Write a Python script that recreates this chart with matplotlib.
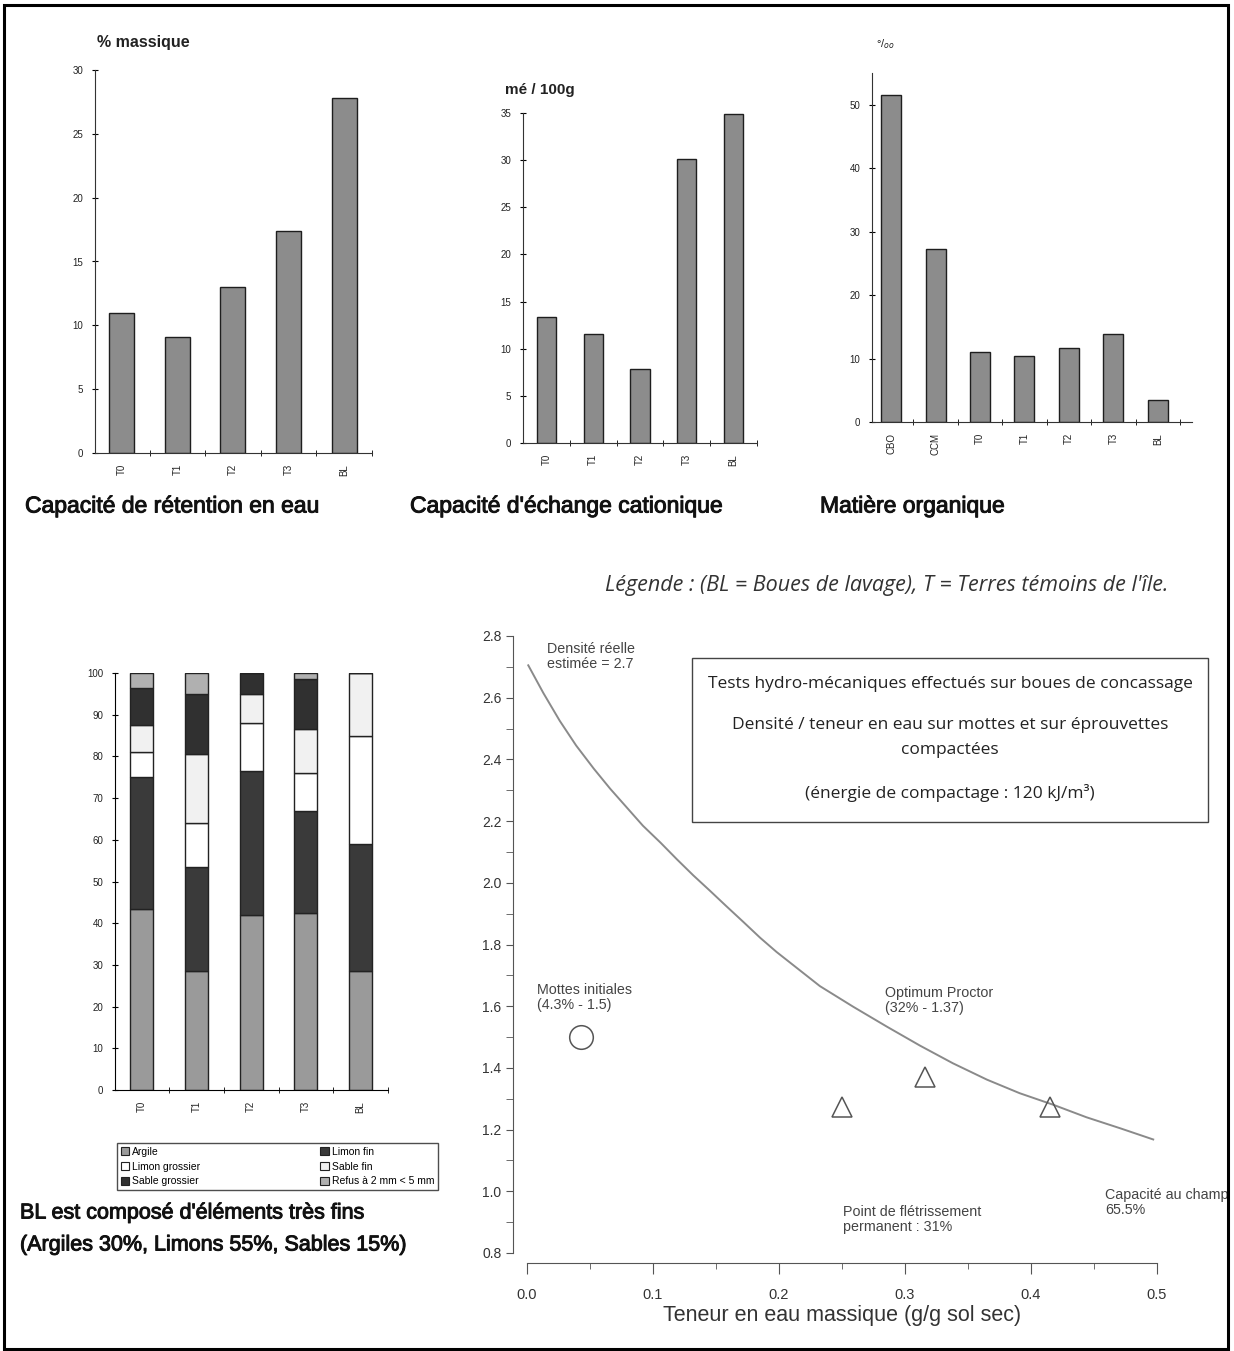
import numpy as np
import matplotlib
matplotlib.use("Agg")
import matplotlib.pyplot as plt
import matplotlib.patheffects as pe
from matplotlib.patches import Rectangle, Patch

plt.rcParams['font.family'] = ['Liberation Sans', 'DejaVu Sans']

# --- data ---
cre_cats = ["T0", "T1", "T2", "T3", "BL"]
cre_vals = [11.0, 9.1, 13.0, 17.4, 27.8]

cec_cats = ["T0", "T1", "T2", "T3", "BL"]
cec_vals = [13.35, 11.6, 7.8, 30.1, 34.9]

mo_cats = ["CBO", "CCM", "T0", "T1", "T2", "T3", "BL"]
mo_vals = [51.6, 27.3, 11.0, 10.4, 11.7, 13.8, 3.4]

gran_cats = ["T0", "T1", "T2", "T3", "BL"]
gran_names = ["Argile", "Limon fin", "Limon grossier", "Sable fin",
              "Sable grossier", "Refus à 2 mm < 5 mm"]
argile = [43.5, 28.5, 42.0, 42.5, 28.5]
limon_fin = [31.5, 25.0, 34.5, 24.5, 30.5]
limon_gros = [6.0, 10.5, 11.5, 9.0, 26.0]
sable_fin = [6.5, 16.5, 7.0, 10.5, 15.0]
sable_gros = [9.0, 14.5, 5.0, 12.0, 0.0]
refus = [3.5, 5.0, 0.0, 1.5, 0.0]
gran_colors = ["#9a9a9a", "#3a3a3a", "#ffffff", "#f1f1f1", "#303030", "#b0b0b0"]

# saturation curve, points
curve_w = [0.001, 0.013, 0.026, 0.039, 0.053, 0.066, 0.079, 0.092, 0.106, 0.119,
           0.132, 0.145, 0.158, 0.172, 0.185, 0.198, 0.2325, 0.259, 0.2855, 0.312,
           0.338, 0.365, 0.391, 0.418, 0.444, 0.471, 0.497]
curve_d = [2.705, 2.615, 2.525, 2.445, 2.37, 2.305, 2.245, 2.185, 2.13, 2.076,
           2.024, 1.975, 1.925, 1.872, 1.822, 1.776, 1.665, 1.598, 1.534, 1.472,
           1.415, 1.362, 1.318, 1.280, 1.240, 1.204, 1.168]
mottes_w, mottes_d = [0.043], [1.5]
eprouv_w = [0.25, 0.316, 0.415]
eprouv_d = [1.274, 1.372, 1.274]

W, H = 1234, 1351
fig = plt.figure(figsize=(W / 100, H / 100), dpi=100)
fig.patch.set_facecolor("white")

def rect(x0, x1, ytop, ybot):
    return [x0 / W, 1 - ybot / H, (x1 - x0) / W, (ybot - ytop) / H]

TXT = "#222222"
heavy = [pe.withStroke(linewidth=0.7, foreground="#111")]

def bar_panel(r, cats, vals, xlim, ylim, yticks, width):
    ax = fig.add_axes(r)
    x = np.arange(len(cats))
    ax.bar(x, vals, width, color="#8c8c8c", edgecolor="#1e1e1e", linewidth=1.0)
    ax.set_xlim(xlim)
    ax.set_ylim(ylim)
    ax.set_yticks(yticks)
    ax.set_xticks(x)
    ax.set_xticklabels(cats, rotation=90, fontsize=7, color=TXT)
    ax.set_xticks(x + 0.5, minor=True)
    ax.tick_params(axis="x", which="major", length=0, pad=8)
    ax.tick_params(axis="x", which="minor", length=5, direction="inout")
    ax.tick_params(axis="y", length=5, direction="inout", labelsize=7, labelcolor=TXT, pad=6)
    for s in ["top", "right"]:
        ax.spines[s].set_visible(False)
    for s in ["left", "bottom"]:
        ax.spines[s].set_color("#333333")
    return ax

title = dict(fontsize=16.5, va="center", color="#111", path_effects=heavy)
unit = dict(color=TXT, va="center", fontweight="bold")

# top row
bar_panel(rect(95, 372, 70, 453), cre_cats, cre_vals, (-0.48, 4.5), (0, 30), range(0, 31, 5), 0.45)
fig.text(97 / W, 1 - 42 / H, "% massique", fontsize=11.5, **unit)
fig.text(25 / W, 1 - 506 / H, "Capacité de rétention en eau", **title)

bar_panel(rect(523, 757, 113, 443), cec_cats, cec_vals, (-0.5, 4.35), (0, 35), range(0, 36, 5), 0.41)
fig.text(505 / W, 1 - 90 / H, "mé / 100g", fontsize=11, **unit)
fig.text(410 / W, 1 - 506 / H, "Capacité d'échange cationique", **title)

bar_panel(rect(872, 1192, 73, 422), mo_cats, mo_vals, (-0.43, 6.77), (0, 55), range(0, 51, 10), 0.45)
fig.text(876 / W, 1 - 44 / H, "°/$_{oo}$", fontsize=8, color=TXT, va="center")
fig.text(820 / W, 1 - 506 / H, "Matière organique", **title)

fig.text(605 / W, 1 - 585 / H, "Légende : (BL = Boues de lavage), T = Terres témoins de l'île.",
         fontsize=15.5, style="italic", family=["Open Sans", "DejaVu Sans"], color="#333", va="center")

# stacked granulometry
ax4 = fig.add_axes(rect(115, 388, 673, 1090))
xg = np.arange(len(gran_cats))
layers = [argile, limon_fin, limon_gros, sable_fin, sable_gros, refus]
bottom = np.zeros(len(gran_cats))
for vals, col in zip(layers, gran_colors):
    ax4.bar(xg, vals, 0.42, bottom=bottom, color=col, edgecolor="#222", linewidth=1.0)
    bottom += np.array(vals)
ax4.set_xlim(-0.49, 4.48)
ax4.set_ylim(0, 100)
ax4.set_yticks(range(0, 101, 10))
ax4.set_xticks(xg)
ax4.set_xticklabels(gran_cats, rotation=90, fontsize=7, color=TXT)
ax4.set_xticks(xg + 0.5, minor=True)
ax4.tick_params(axis="x", which="major", length=0, pad=8)
ax4.tick_params(axis="x", which="minor", length=5, direction="inout")
ax4.tick_params(axis="y", length=5, direction="inout", labelsize=7, labelcolor=TXT, pad=6)
for s in ["top", "right"]:
    ax4.spines[s].set_visible(False)

handles = [Patch(facecolor=c, edgecolor="#222", linewidth=0.8) for c in gran_colors]
order = [0, 2, 4, 1, 3, 5]
leg = fig.legend([handles[i] for i in order], [gran_names[i] for i in order],
                 loc="lower left", bbox_to_anchor=(117 / W, 1 - 1190 / H, 321 / W, 62 / H),
                 mode="expand", ncol=2, fontsize=7.5, frameon=True, fancybox=False,
                 handlelength=0.8, handleheight=0.8, handletextpad=0.3,
                 borderaxespad=0, borderpad=0.35, labelspacing=0.45)
leg.get_frame().set_edgecolor("#222")
leg.get_frame().set_linewidth(1.0)

bl = dict(fontsize=15.5, va="center", color="#111", path_effects=heavy)
fig.text(20 / W, 1 - 1213 / H, "BL est composé d'éléments très fins", **bl)
fig.text(20 / W, 1 - 1245 / H, "(Argiles 30%, Limons 55%, Sables 15%)", **bl)

# density / water content
ax5 = fig.add_axes(rect(527, 1157, 636, 1253))
ax5.plot(curve_w, curve_d, color="#8a8a8a", linewidth=1.4)
ax5.plot(mottes_w, mottes_d, "o", markersize=17, markerfacecolor="none",
         markeredgecolor="#555", markeredgewidth=1.1)
ax5.plot(eprouv_w, eprouv_d, "^", markersize=15, markerfacecolor="none",
         markeredgecolor="#555", markeredgewidth=1.1)
ax5.set_xlim(0, 0.5)
ax5.set_ylim(0.8, 2.8)
ax5.set_yticks(np.arange(0.8, 2.81, 0.2))
ax5.set_yticklabels([f"{v:.1f}" for v in np.arange(0.8, 2.81, 0.2)])
ax5.set_yticks(np.arange(0.8, 2.81, 0.1), minor=True)
ax5.set_xticks(np.arange(0, 0.51, 0.1))
ax5.set_xticklabels([f"{v:.1f}" for v in np.arange(0, 0.51, 0.1)])
ax5.set_xticks(np.arange(0, 0.51, 0.05), minor=True)
ax5.tick_params(axis="y", which="both", length=5, labelsize=10, labelcolor="#333", color="#555")
ax5.tick_params(axis="x", which="major", length=8, labelsize=10.5, labelcolor="#333", pad=10, color="#555")
ax5.tick_params(axis="x", which="minor", length=4, color="#555")
ax5.spines["left"].set_position(("outward", 10))
ax5.spines["bottom"].set_position(("outward", 7))
for s in ["top", "right"]:
    ax5.spines[s].set_visible(False)
for s in ["left", "bottom"]:
    ax5.spines[s].set_color("#555")
ax5.set_xlabel("Teneur en eau massique (g/g sol sec)", fontsize=15.5, color="#333", labelpad=2)

small = dict(fontsize=10.3, color="#444", va="top", ha="left", linespacing=1.05)
ax5.text(0.016, 2.78, "Densité réelle\nestimée = 2.7", **small)
ax5.text(0.008, 1.675, "Mottes initiales\n(4.3% - 1.5)", **small)
ax5.text(0.284, 1.665, "Optimum Proctor\n(32% - 1.37)", **small)
ax5.text(0.251, 0.955, "Point de flétrissement\npermanent : 31%", **small)
ax5.text(0.459, 1.01, "Capacité au champ\n65.5%", clip_on=False, **small)

# framed note
fig.patches.append(Rectangle((692 / W, 1 - 822 / H), 516 / W, 164 / H, transform=fig.transFigure,
                             fill=False, edgecolor="#444", linewidth=1.0))
note = dict(fontsize=12.5, color="#222", ha="center", va="center",
            family=["Open Sans", "DejaVu Sans"])
fig.text(950 / W, 1 - 684 / H, "Tests hydro-mécaniques effectués sur boues de concassage", **note)
fig.text(950 / W, 1 - 725 / H, "Densité / teneur en eau sur mottes et sur éprouvettes", **note)
fig.text(950 / W, 1 - 750 / H, "compactées", **note)
fig.text(950 / W, 1 - 793 / H, "(énergie de compactage : 120 kJ/m³)", **note)

# outer frame
fig.patches.append(Rectangle((4 / W, 2 / H), 1224 / W, 1344 / H, transform=fig.transFigure,
                             fill=False, edgecolor="black", linewidth=2.2))

fig.savefig("out.png", dpi=100)
